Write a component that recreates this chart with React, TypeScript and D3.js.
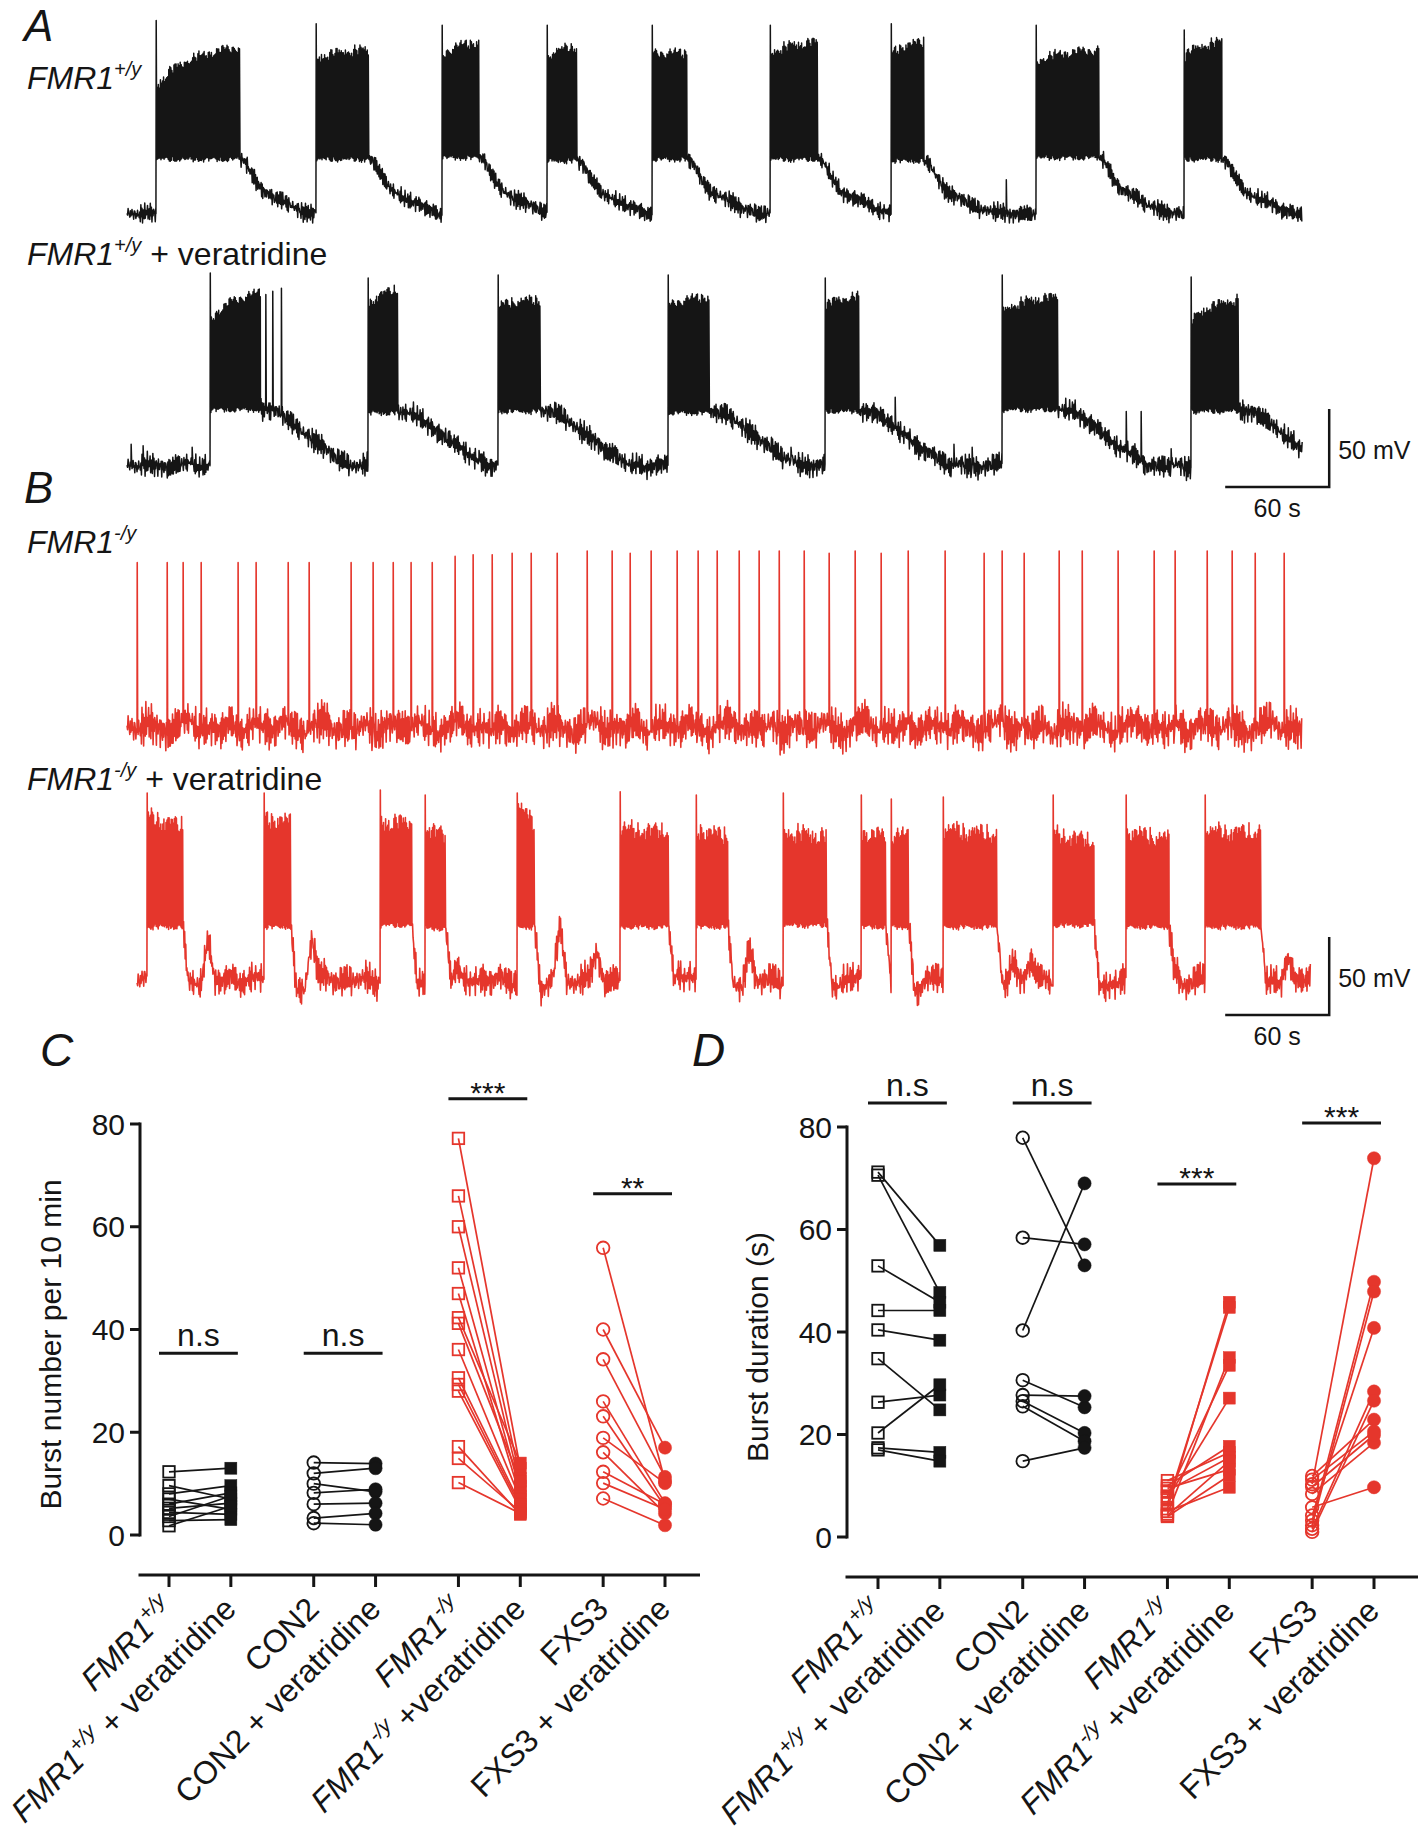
import React from 'react';
import * as d3 from 'd3';

const FONT = '"Liberation Sans", Arial, Helvetica, sans-serif';
const BLACK = '#151515';
const RED = '#e5362c';

// ---------------- traces: times in s, voltages in mV ----------------
// A, FMR1+/y
const a1Onset = [16.7, 109.0, 181.7, 242.3, 302.9, 371.0, 440.8, 524.4, 609.8];
const a1Offset = [65.2, 139.6, 203.1, 259.6, 323.1, 398.7, 459.8, 560.8, 631.7];
const a1Peak = [64, 62, 61, 61, 61, 61, 62, 61, 58];
const a1TopStart = [21, 39, 41, 40, 43, 42, 42, 37, 40];
const a1TopEnd = [47, 45, 50, 47, 43, 50, 50, 45, 50];
const a1Plateau = [-25, -25, -24, -26, -25, -25, -26, -24, -25];
const a1EventT = [61.5, 63.8, 135.5, 137.8, 456.5, 458.2, 507.2, 627, 629.5];
const a1EventV = [50, 52, 48, 50, 51, 52, -38, 49, 52];

// A, FMR1+/y + veratridine
const a2Onset = [47.9, 139.0, 214.0, 312.1, 402.7, 504.8, 613.8];
const a2Offset = [77.0, 156.3, 238.8, 336.3, 422.3, 537.1, 641.5];
const a2Peak = [63.7, 60.5, 62.4, 62.4, 60.5, 62.4, 61.2];
const a2TopStart = [31.7, 41.9, 41.9, 41.9, 41.9, 38, 31.7];
const a2TopEnd = [50.9, 52.8, 46.4, 48.3, 48.3, 48.3, 46.4];
const a2Plateau = [-24, -26, -25, -26, -25, -24, -25];
const a2EventT = [2.3, 9.2, 37.5, 80.0, 84.0, 89.0, 185, 203, 281.5, 383, 443.1, 477, 487.5, 576.4, 585.0, 602.3];
const a2EventV = [-46, -47, -48, 50, 52, 54, -47, -50, -47, -48, -16, -46, -48, -25, -25, -49];

// B, FMR1-/y
const b1SpikeT = [5.8, 23.1, 32.3, 42.7, 64.0, 74.4, 92.9, 105.0, 129.2, 141.9, 153.5, 163.8, 176.0, 189.2, 199.6,
  210.6, 222.1, 233.1, 248.1, 265.4, 279.8, 290.2, 302.3, 317.3, 329.4, 340.4, 353.1, 364.6, 376.2, 390.6, 405.0,
  420.0, 435.0, 450.6, 471.9, 494.4, 504.8, 517.5, 537.7, 551.0, 571.7, 592.5, 604.6, 623.1, 637.5, 650.8, 667.5];
const b1SpikeV = [46, 46, 46, 46, 46, 46, 46, 46, 46, 46, 46, 46, 46, 50, 51, 51, 52, 52, 52, 53.5, 53.5, 52, 53.5,
  53.5, 53.5, 53.5, 53.5, 53.5, 53.5, 53.5, 52, 53.5, 52, 53.5, 53.5, 52, 53.5, 52, 53.5, 53.5, 53.5, 53.5, 53.5,
  53.5, 53.5, 52, 52];

// B, FMR1-/y + veratridine
const b2Onset = [11.5, 79.0, 146.0, 171.9, 225.0, 284.4, 328.3, 378.5, 423.5, 440.8, 470.8, 534.2, 576.3, 621.9];
const b2Offset = [32.3, 94.6, 164.4, 184.0, 235.4, 312.7, 346.7, 403.8, 437.9, 451.2, 501.9, 557.9, 601.2, 654.2];
const b2Peak = [59.9, 59.9, 61.8, 58.6, 59.9, 60.6, 58.6, 59.9, 58.6, 56, 57.3, 58.6, 58.6, 58.6];
const b2TopStart = [44.5, 43.2, 40.6, 38.1, 53.5, 36.2, 36.2, 34.2, 34.2, 33, 36.2, 33, 34.9, 34.9];
const b2TopEnd = [38.1, 41.3, 40.6, 31.7, 38.1, 34.9, 31.7, 31.7, 31.7, 31.7, 33, 28.5, 29.7, 34.2];
const b2Plateau = [-26, -26, -25, -27, -26, -26, -26, -25, -26, -26, -26, -25, -26, -26];
const b2BumpT = [46.7, 106.7, 190, 249.8, 271, 318, 359, 414, 511, 521.5, 604.6, 669.8];
const b2BumpV = [-34, -34, -52, -26, -45, -49, -39, -55, -43, -46, -50, -45];

// shape templates (time after burst end in s -> fraction of way back to rest)
const decayA1: [number, number][] = [[0, 0], [3, 0.05], [8, 0.35], [13, 0.58], [23, 0.76], [33, 0.9], [42, 1]];
const decayA2: [number, number][] = [[0, 0], [9, 0.02], [21, 0.31], [37, 0.71], [52, 1]];
const decayB: [number, number][] = [[0, 0], [1.5, 0.55], [3, 1.15], [7, 1.1], [12, 1]];
const envA: [number, number][] = [[0, 0], [0.15, 0.38], [0.4, 0.68], [0.7, 0.88], [1, 1]];
const envB: [number, number][] = [[0, 0], [1, 1]];

// fixed membrane noise pattern
const noiseFast = [0.35, -0.8, 0.95, -0.25, 0.6, -1, 0.45, 0.1, -0.65, 1, -0.4, 0.7, -0.9, 0.2, 0.85, -0.5, -0.1, 0.55, -0.75, 0.95, -0.3, 0.6, -0.95];
const noiseMid = [-0.5, 0.8, -0.2, 0.4, -0.9, 0.7, 0.1, -0.6, 0.9, -0.3, 0.5, -0.8, 0.2, 0.6, -0.4, 1, -0.7];
const noiseSlow = [0.2, -0.4, 0.6, -0.1, -0.7, 0.3, 0.8, -0.5, 0.1, -0.3, 0.5, -0.8, 0.4];

// ---------------- C / D: paired values ----------------
const cWt = [12.3, 9.6, 8.0, 7.0, 6.0, 5.2, 4.4, 3.6, 2.8, 1.8];
const cWtVer = [13.0, 7.0, 9.6, 5.0, 8.2, 6.2, 4.0, 7.6, 3.0, 5.6];
const cCon = [14.1, 12.0, 10.0, 8.2, 6.0, 3.3, 2.3];
const cConVer = [13.9, 13.0, 8.4, 8.9, 6.2, 4.2, 2.0];
const cKo = [77.2, 66, 60, 52, 47, 42.3, 41.2, 36.1, 30.6, 29.3, 28, 17.2, 14.9, 10.2];
const cKoVer = [13, 11, 9.5, 8.5, 7.5, 14, 10.5, 7, 6, 5.5, 5, 4, 4.5, 4.2];
const cFxs = [55.9, 40, 34.2, 26, 23.1, 18.9, 16.1, 12.3, 10.1, 7.1];
const cFxsVer = [10.5, 17, 11.3, 6.2, 5.5, 10.1, 4.2, 6.0, 5.0, 1.9];

const dWt = [71.2, 70.6, 52.9, 44.2, 40.4, 34.8, 26.3, 20.3, 17.4, 17.0];
const dWtVer = [56.9, 47.7, 45.8, 44.2, 38.4, 24.8, 27.7, 29.7, 16.5, 14.8];
const dCon = [77.9, 58.4, 40.3, 30.6, 27.7, 26.5, 25.5, 14.8];
const dConVer = [53, 57.1, 69, 25.3, 27.5, 20.3, 18.7, 17.4];
const dKo = [5.5, 6.5, 4.5, 8, 7.5, 10, 11, 9, 4.2, 9.5, 4, 5];
const dKoVer = [45.8, 44.8, 35, 33.5, 27.1, 17.7, 16.5, 15.5, 14.8, 13.2, 12, 9.7];
const dFxs = [10.3, 3.2, 2.3, 4.2, 1.6, 1.0, 11.9, 11.2, 5.8, 8.4, 9.8];
const dFxsVer = [73.9, 49.8, 47.9, 40.8, 28.4, 26.6, 22.9, 20.6, 9.7, 18.4, 19.9];

const yTicks = [0, 20, 40, 60, 80];

// significance: group index, label, bar level (axis units)
const sigC = [
  { g: 0, text: 'n.s', level: 35.4 },
  { g: 1, text: 'n.s', level: 35.4 },
  { g: 2, text: '***', level: 84.9 },
  { g: 3, text: '**', level: 66.4 },
];
const sigD = [
  { g: 0, text: 'n.s', level: 84.7 },
  { g: 1, text: 'n.s', level: 84.7 },
  { g: 2, text: '***', level: 68.9 },
  { g: 3, text: '***', level: 80.8 },
];

type Seg = { t: string; i?: boolean; sup?: boolean };
const xLabels: Seg[][] = [
  [{ t: 'FMR1', i: true }, { t: '+/y', i: true, sup: true }],
  [{ t: 'FMR1', i: true }, { t: '+/y', i: true, sup: true }, { t: ' + veratridine' }],
  [{ t: 'CON2' }],
  [{ t: 'CON2 + veratridine' }],
  [{ t: 'FMR1', i: true }, { t: '-/y', i: true, sup: true }],
  [{ t: 'FMR1', i: true }, { t: '-/y', i: true, sup: true }, { t: ' +veratridine' }],
  [{ t: 'FXS3' }],
  [{ t: 'FXS3 + veratridine' }],
];

// ---------------- trace builder ----------------
type Burst = { on: number; off: number; peak: number; top0: number; top1: number; plateau: number };
type Ev = { t: number; v: number; w: number };
type TraceSpec = {
  t0: number; t1: number; base: number; bursts: Burst[]; events: Ev[];
  decay: [number, number][]; env: [number, number][];
  amp: number; slowAmp: number; topAmp: number;
};

function makeBursts(on: number[], off: number[], peak: number[], top0: number[], top1: number[], plat: number[]): Burst[] {
  return on.map((o, i) => ({ on: o, off: off[i], peak: peak[i], top0: top0[i], top1: top1[i], plateau: plat[i] }));
}

function buildTrace(s: TraceSpec): [number, number][] {
  const pts: [number, number][] = [];
  const decay = d3.scaleLinear().domain(s.decay.map(d => d[0])).range(s.decay.map(d => d[1])).clamp(true);
  const decayEnd = s.decay[s.decay.length - 1][0];
  const env = d3.scaleLinear().domain(s.env.map(d => d[0])).range(s.env.map(d => d[1])).clamp(true);
  let k = 0;
  const jit = () => {
    const v = 0.6 * noiseFast[k % noiseFast.length] + 0.4 * noiseMid[k % noiseMid.length];
    k++;
    return v;
  };
  const slow = (t: number) => {
    const p = t / 6;
    const i = Math.floor(p);
    const f = p - i;
    const n = noiseSlow.length;
    return noiseSlow[i % n] * (1 - f) + noiseSlow[(i + 1) % n] * f;
  };
  const rest = (t: number) => {
    let v = s.base + slow(t) * s.slowAmp;
    const prev = s.bursts.filter(b => b.off <= t).pop();
    if (prev && t - prev.off < decayEnd) {
      const f = decay(t - prev.off);
      v = prev.plateau + (s.base - prev.plateau) * f + slow(t) * s.slowAmp * Math.min(1, f);
    }
    for (const e of s.events) {
      if (e.w > 1 && Math.abs(t - e.t) < e.w / 2) v += (e.v - s.base) * (1 - Math.abs(t - e.t) / (e.w / 2));
    }
    return v;
  };
  const dt = 0.32;
  let t = s.t0;
  const quiet = (until: number) => {
    while (t < until) {
      const ev = s.events.find(e => e.w <= 1 && e.t >= t && e.t < t + dt);
      if (ev) {
        const r = rest(ev.t);
        pts.push([ev.t, r]);
        pts.push([ev.t + 0.1, ev.v]);
        pts.push([ev.t + 0.35, r + s.amp * 0.5]);
        t = ev.t + 0.6;
        continue;
      }
      pts.push([t, rest(t) + jit() * s.amp]);
      t += dt;
    }
  };
  for (const b of s.bursts) {
    quiet(b.on);
    pts.push([b.on, rest(b.on)]);
    pts.push([b.on + 0.15, b.peak]);
    let up = false;
    for (let u = b.on + 0.5; u < b.off; u += 0.3) {
      const f = env((u - b.on) / (b.off - b.on));
      const top = b.top0 + (b.top1 - b.top0) * f;
      pts.push([u, up ? top + jit() * s.topAmp : b.plateau + jit() * 2]);
      up = !up;
    }
    pts.push([b.off, b.plateau]);
    t = b.off + dt;
  }
  quiet(s.t1);
  return pts;
}

const traceX = d3.scaleLinear().domain([0, 60]).range([127, 231]);

function Trace({ spec, base, color, width }: { spec: TraceSpec; base: number; color: string; width: number }) {
  const y = d3.scaleLinear().domain([-60, -10]).range([base, base - 78]);
  const pts = buildTrace(spec);
  const line = d3.line<[number, number]>().x(d => traceX(d[0])).y(d => y(d[1]));
  return <path d={line(pts) || ''} fill="none" stroke={color} strokeWidth={width} strokeLinejoin="round" />;
}

function ScaleBar({ bottom }: { bottom: number }) {
  const right = traceX(678) + 27;
  const left = right - (traceX(60) - traceX(0));
  const top = bottom - 78;
  return (
    <g>
      <path d={`M${left},${bottom}H${right}V${top}`} fill="none" stroke={BLACK} strokeWidth={2.5} />
      <text x={right + 9} y={bottom - 28} fontSize={25} fontFamily={FONT} fill={BLACK}>50 mV</text>
      <text x={(left + right) / 2} y={bottom + 30} fontSize={25} fontFamily={FONT} fill={BLACK} textAnchor="middle">60 s</text>
    </g>
  );
}

function RichText({ segs, size, supSize }: { segs: Seg[]; size: number; supSize: number }) {
  const out: React.ReactNode[] = [];
  let raised = false;
  segs.forEach((s, i) => {
    let dy = 0;
    if (s.sup && !raised) { dy = -size * 0.42; raised = true; }
    else if (!s.sup && raised) { dy = size * 0.42; raised = false; }
    out.push(
      <tspan key={i} dy={dy} fontStyle={s.i ? 'italic' : 'normal'} fontSize={s.sup ? supSize : size}>{s.t}</tspan>
    );
  });
  return <>{out}</>;
}

type Group = { before: number[]; after: number[]; color: string; shape: 'square' | 'circle' };

const GROUP = 2.34;

function Marker({ shape, cx, cy, filled, color }: { shape: string; cx: number; cy: number; filled: boolean; color: string }) {
  if (shape === 'square') {
    const s = filled ? 12 : 11.5;
    return <rect x={cx - s / 2} y={cy - s / 2} width={s} height={s} fill={filled ? color : 'none'} stroke={color} strokeWidth={filled ? 0.5 : 1.8} />;
  }
  const r = filled ? 6.6 : 6.3;
  return <circle cx={cx} cy={cy} r={r} fill={filled ? color : 'none'} stroke={color} strokeWidth={filled ? 0.5 : 1.8} />;
}

function PairPanel({ groups, x, y, axisX, axisY, axisEnd, sig, ylabel }: {
  groups: Group[]; x: d3.ScaleLinear<number, number>; y: d3.ScaleLinear<number, number>;
  axisX: number; axisY: number; axisEnd: number; sig: { g: number; text: string; level: number }[]; ylabel: string;
}) {
  const cats = d3.range(8).map(i => Math.floor(i / 2) * GROUP + (i % 2));
  return (
    <g fontFamily={FONT}>
      {/* y axis */}
      <line x1={axisX} x2={axisX} y1={y(80) - 1.5} y2={y(0) + 1.5} stroke={BLACK} strokeWidth={3} />
      {yTicks.map(v => (
        <g key={v}>
          <line x1={axisX - 10} x2={axisX} y1={y(v)} y2={y(v)} stroke={BLACK} strokeWidth={3} />
          <text x={axisX - 15} y={y(v) + 10.5} fontSize={30} textAnchor="end" fill={BLACK}>{v}</text>
        </g>
      ))}
      <text transform={`translate(${axisX - 79},${(y(0) + y(80)) / 2 + 15}) rotate(-90)`} fontSize={30} textAnchor="middle" fill={BLACK}>{ylabel}</text>
      {/* x axis */}
      <line x1={axisX - 1.5} x2={axisEnd} y1={axisY} y2={axisY} stroke={BLACK} strokeWidth={3} />
      {cats.map((c, i) => (
        <g key={i}>
          <line x1={x(c)} x2={x(c)} y1={axisY} y2={axisY + 12} stroke={BLACK} strokeWidth={3} />
          <text transform={`translate(${x(c) + 7},${axisY + 36}) rotate(-45)`} fontSize={32} textAnchor="end" fill={BLACK}>
            <RichText segs={xLabels[i]} size={32} supSize={21} />
          </text>
        </g>
      ))}
      {/* pairs */}
      {groups.map((g, gi) => {
        const x0 = x(gi * GROUP);
        const x1 = x(gi * GROUP + 1);
        return (
          <g key={gi}>
            {g.before.map((v, i) => (
              <line key={'l' + i} x1={x0} y1={y(v)} x2={x1} y2={y(g.after[i])} stroke={g.color} strokeWidth={1.7} />
            ))}
            {g.before.map((v, i) => <Marker key={'o' + i} shape={g.shape} cx={x0} cy={y(v)} filled={false} color={g.color} />)}
            {g.after.map((v, i) => <Marker key={'f' + i} shape={g.shape} cx={x1} cy={y(v)} filled={true} color={g.color} />)}
          </g>
        );
      })}
      {/* significance */}
      {sig.map((s, i) => {
        const x0 = x(s.g * GROUP) - 10;
        const x1 = x(s.g * GROUP + 1) + 7;
        const isStar = s.text.startsWith('*');
        return (
          <g key={i}>
            <line x1={x0} x2={x1} y1={y(s.level)} y2={y(s.level)} stroke={BLACK} strokeWidth={3} />
            <text x={(x0 + x1) / 2} y={isStar ? y(s.level) + 4 : y(s.level) - 7} fontSize={isStar ? 30 : 32} textAnchor="middle" fill={BLACK}>{s.text}</text>
          </g>
        );
      })}
    </g>
  );
}

function TraceLabel({ x, y, segs }: { x: number; y: number; segs: Seg[] }) {
  return (
    <text x={x} y={y} fontSize={32} fontFamily={FONT} fill={BLACK}>
      <RichText segs={segs} size={32} supSize={20} />
    </text>
  );
}

export default function App() {
  const specA1: TraceSpec = {
    t0: 0, t1: 678, base: -60,
    bursts: makeBursts(a1Onset, a1Offset, a1Peak, a1TopStart, a1TopEnd, a1Plateau),
    events: a1EventT.map((t, i) => ({ t, v: a1EventV[i], w: 0.3 })),
    decay: decayA1, env: envA, amp: 6.5, slowAmp: 2, topAmp: 4,
  };
  const specA2: TraceSpec = {
    t0: 0, t1: 678, base: -60,
    bursts: makeBursts(a2Onset, a2Offset, a2Peak, a2TopStart, a2TopEnd, a2Plateau),
    events: a2EventT.map((t, i) => ({ t, v: a2EventV[i], w: 0.3 })),
    decay: decayA2, env: envA, amp: 8, slowAmp: 2.5, topAmp: 4,
  };
  const specB1: TraceSpec = {
    t0: 0, t1: 678, base: -60, bursts: [],
    events: b1SpikeT.map((t, i) => ({ t, v: b1SpikeV[i], w: 0.3 })),
    decay: decayB, env: envB, amp: 14, slowAmp: 7, topAmp: 0,
  };
  const specB2: TraceSpec = {
    t0: 5.8, t1: 683, base: -60,
    bursts: makeBursts(b2Onset, b2Offset, b2Peak, b2TopStart, b2TopEnd, b2Plateau),
    events: b2BumpT.map((t, i) => ({ t, v: b2BumpV[i], w: 8 })),
    decay: decayB, env: envB, amp: 11, slowAmp: 5, topAmp: 7,
  };

  const cx = d3.scaleLinear().domain([0, 3 * GROUP + 1]).range([169, 665]);
  const cy = d3.scaleLinear().domain([0, 80]).range([1535, 1124]);
  const dx = d3.scaleLinear().domain([0, 3 * GROUP + 1]).range([878, 1374]);
  const dy = d3.scaleLinear().domain([0, 80]).range([1537, 1127]);

  const groupsC: Group[] = [
    { before: cWt, after: cWtVer, color: BLACK, shape: 'square' },
    { before: cCon, after: cConVer, color: BLACK, shape: 'circle' },
    { before: cKo, after: cKoVer, color: RED, shape: 'square' },
    { before: cFxs, after: cFxsVer, color: RED, shape: 'circle' },
  ];
  const groupsD: Group[] = [
    { before: dWt, after: dWtVer, color: BLACK, shape: 'square' },
    { before: dCon, after: dConVer, color: BLACK, shape: 'circle' },
    { before: dKo, after: dKoVer, color: RED, shape: 'square' },
    { before: dFxs, after: dFxsVer, color: RED, shape: 'circle' },
  ];

  const panelLetter = (t: string, x: number, y: number, size: number) => (
    <text x={x} y={y} fontSize={size} fontStyle="italic" fontFamily={FONT} fill={BLACK}>{t}</text>
  );

  return (
    <div style={{ position: 'absolute', left: 0, top: 0 }}>
      <svg width={1418} height={1842} viewBox="0 0 1418 1842" style={{ display: 'block', background: '#fff' }}>
        <rect width={1418} height={1842} fill="#fff" />
        {panelLetter('A', 24, 41, 44)}
        <TraceLabel x={27} y={89} segs={[{ t: 'FMR1', i: true }, { t: '+/y', i: true, sup: true }]} />
        <Trace spec={specA1} base={214} color={BLACK} width={1.5} />
        <TraceLabel x={27} y={265} segs={[{ t: 'FMR1', i: true }, { t: '+/y', i: true, sup: true }, { t: ' + veratridine' }]} />
        <Trace spec={specA2} base={466} color={BLACK} width={1.5} />
        <ScaleBar bottom={487} />

        {panelLetter('B', 24, 503, 44)}
        <TraceLabel x={27} y={553} segs={[{ t: 'FMR1', i: true }, { t: '-/y', i: true, sup: true }]} />
        <Trace spec={specB1} base={728} color={RED} width={1.6} />
        <TraceLabel x={27} y={790} segs={[{ t: 'FMR1', i: true }, { t: '-/y', i: true, sup: true }, { t: ' + veratridine' }]} />
        <Trace spec={specB2} base={980} color={RED} width={1.6} />
        <ScaleBar bottom={1015} />

        {panelLetter('C', 40, 1066, 46)}
        {panelLetter('D', 692, 1066, 46)}
        <PairPanel groups={groupsC} x={cx} y={cy} axisX={140} axisY={1575} axisEnd={700} sig={sigC} ylabel="Burst number per 10 min" />
        <PairPanel groups={groupsD} x={dx} y={dy} axisX={847} axisY={1577} axisEnd={1418} sig={sigD} ylabel="Burst duration (s)" />
      </svg>
    </div>
  );
}
